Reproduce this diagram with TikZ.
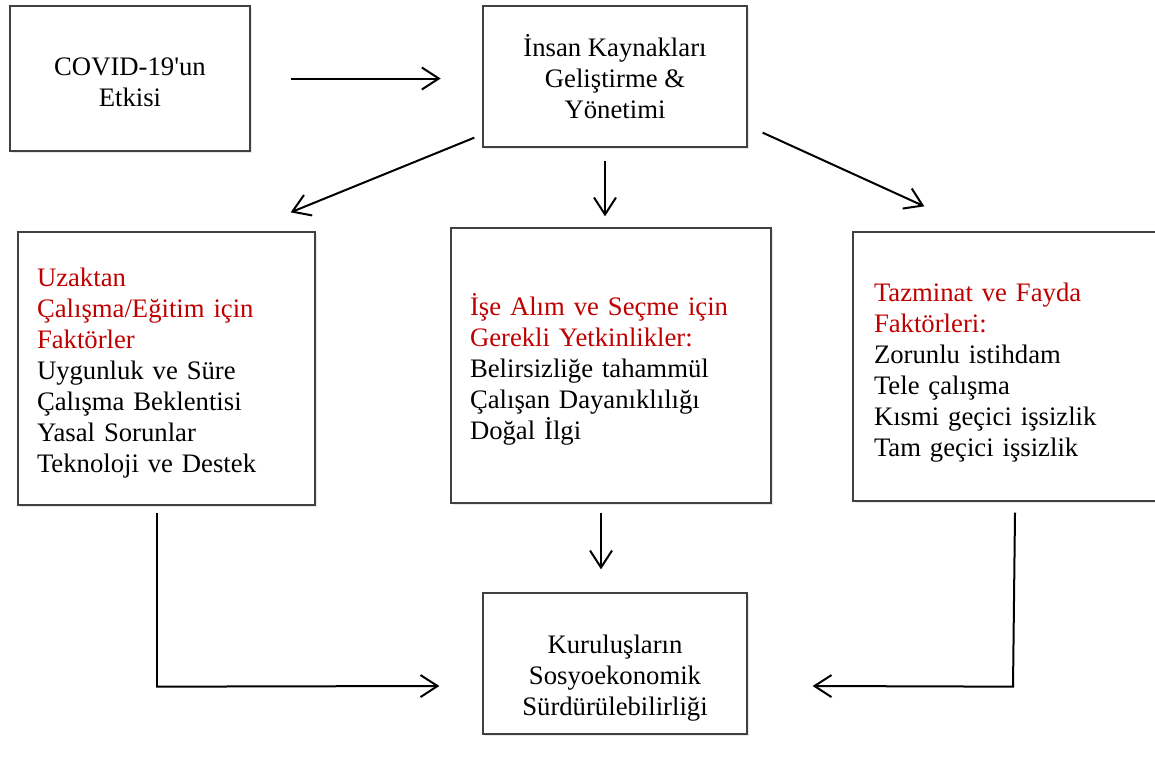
\documentclass[tikz,border=0pt]{standalone}
\usepackage{fontspec}
\setmainfont{Liberation Serif}
\usetikzlibrary{arrows.meta,shadows,calc}
\definecolor{redtxt}{RGB}{192,0,0}
\newcommand{\dn}[1]{\rule{0pt}{#1pt}}
\tikzset{
  box/.style={draw=black!75, line width=1.3pt, fill=white, inner sep=0pt,
    drop shadow={opacity=0.18, shadow xshift=2pt, shadow yshift=-2pt},
    font=\fontsize{26.7}{31}\selectfont},
  cbox/.style={box, align=center},
  lbox/.style={box, align=left},
  arr/.style={line width=2pt, -{Straight Barb[length=17pt,width=22pt,line width=2pt]}},
  line/.style={line width=2pt}
}
\begin{document}
\begin{tikzpicture}[x=1pt,y=-1pt]
\useasboundingbox (0,0) rectangle (1155,763);
\clip (0,0) rectangle (1155,763);
\fill[white] (0,0) rectangle (1155,763);
\node[cbox, minimum width=240, minimum height=145] (covid) at (130,78.5) {\dn{25}COVID-19\textquotesingle un\\Etkisi};
\node[cbox, minimum width=264, minimum height=141] (hr) at (615,76.5) {İnsan Kaynakları\\Geliştirme \&\\Yönetimi};
\node[lbox, minimum width=297, minimum height=273, text width=259, inner xsep=19] (left) at (166.5,368.5)
  {\dn{28}\textcolor{redtxt}{Uzaktan\\Çalışma/Eğitim için\\Faktörler}\\Uygunluk ve Süre\\Çalışma Beklentisi\\Yasal Sorunlar\\Teknoloji ve Destek};
\node[lbox, minimum width=320, minimum height=275, text width=282, inner xsep=19] (mid) at (611,365.5)
  {\dn{29}\textcolor{redtxt}{İşe Alım ve Seçme için\\Gerekli Yetkinlikler:}\\Belirsizliğe tahammül\\Çalışan Dayanıklılığı\\Doğal İlgi};
\node[lbox, minimum width=304, minimum height=269, text width=262, inner xsep=21] (right) at (1005,366.5)
  {\dn{30}\textcolor{redtxt}{Tazminat ve Fayda\\Faktörleri:}\\Zorunlu istihdam\\Tele çalışma\\Kısmi geçici işsizlik\\Tam geçici işsizlik};
\node[cbox, minimum width=264, minimum height=141] (bottom) at (615,663.5) {\dn{48}Kuruluşların\\Sosyoekonomik\\Sürdürülebilirliği};

\draw[arr] ($(covid.east)+(40,0)$) -- ($(covid.east)+(190,0)$);
\draw[arr] ($(hr.south west)+(-8,-10)$) -- ($(left.north east)+(-25,-19)$);
\draw[arr] ($(hr.south)+(-10,13)$) -- ($(mid.north)+(-6,-11)$);
\draw[arr] ($(hr.south east)+(15,-15)$) -- ($(right.north west)+(72,-25)$);
\draw[arr] ($(mid.south)+(-10,9)$) -- ($(bottom.north)+(-14,-23)$);
\coordinate (lc) at ($(left.south)+(-9.5,181)$);
\draw[line] ($(left.south)+(-9.5,7)$) -- (lc);
\draw[arr] ($(lc)+(-1,0)$) -- ($(bottom.west)+(-43,22.5)$);
\coordinate (rc) at ($(right.south)+(8,185)$);
\draw[line] ($(right.south)+(10,11)$) -- (rc);
\draw[arr] ($(rc)+(1,0)$) -- ($(bottom.east)+(65,22.5)$);
\end{tikzpicture}
\end{document}
